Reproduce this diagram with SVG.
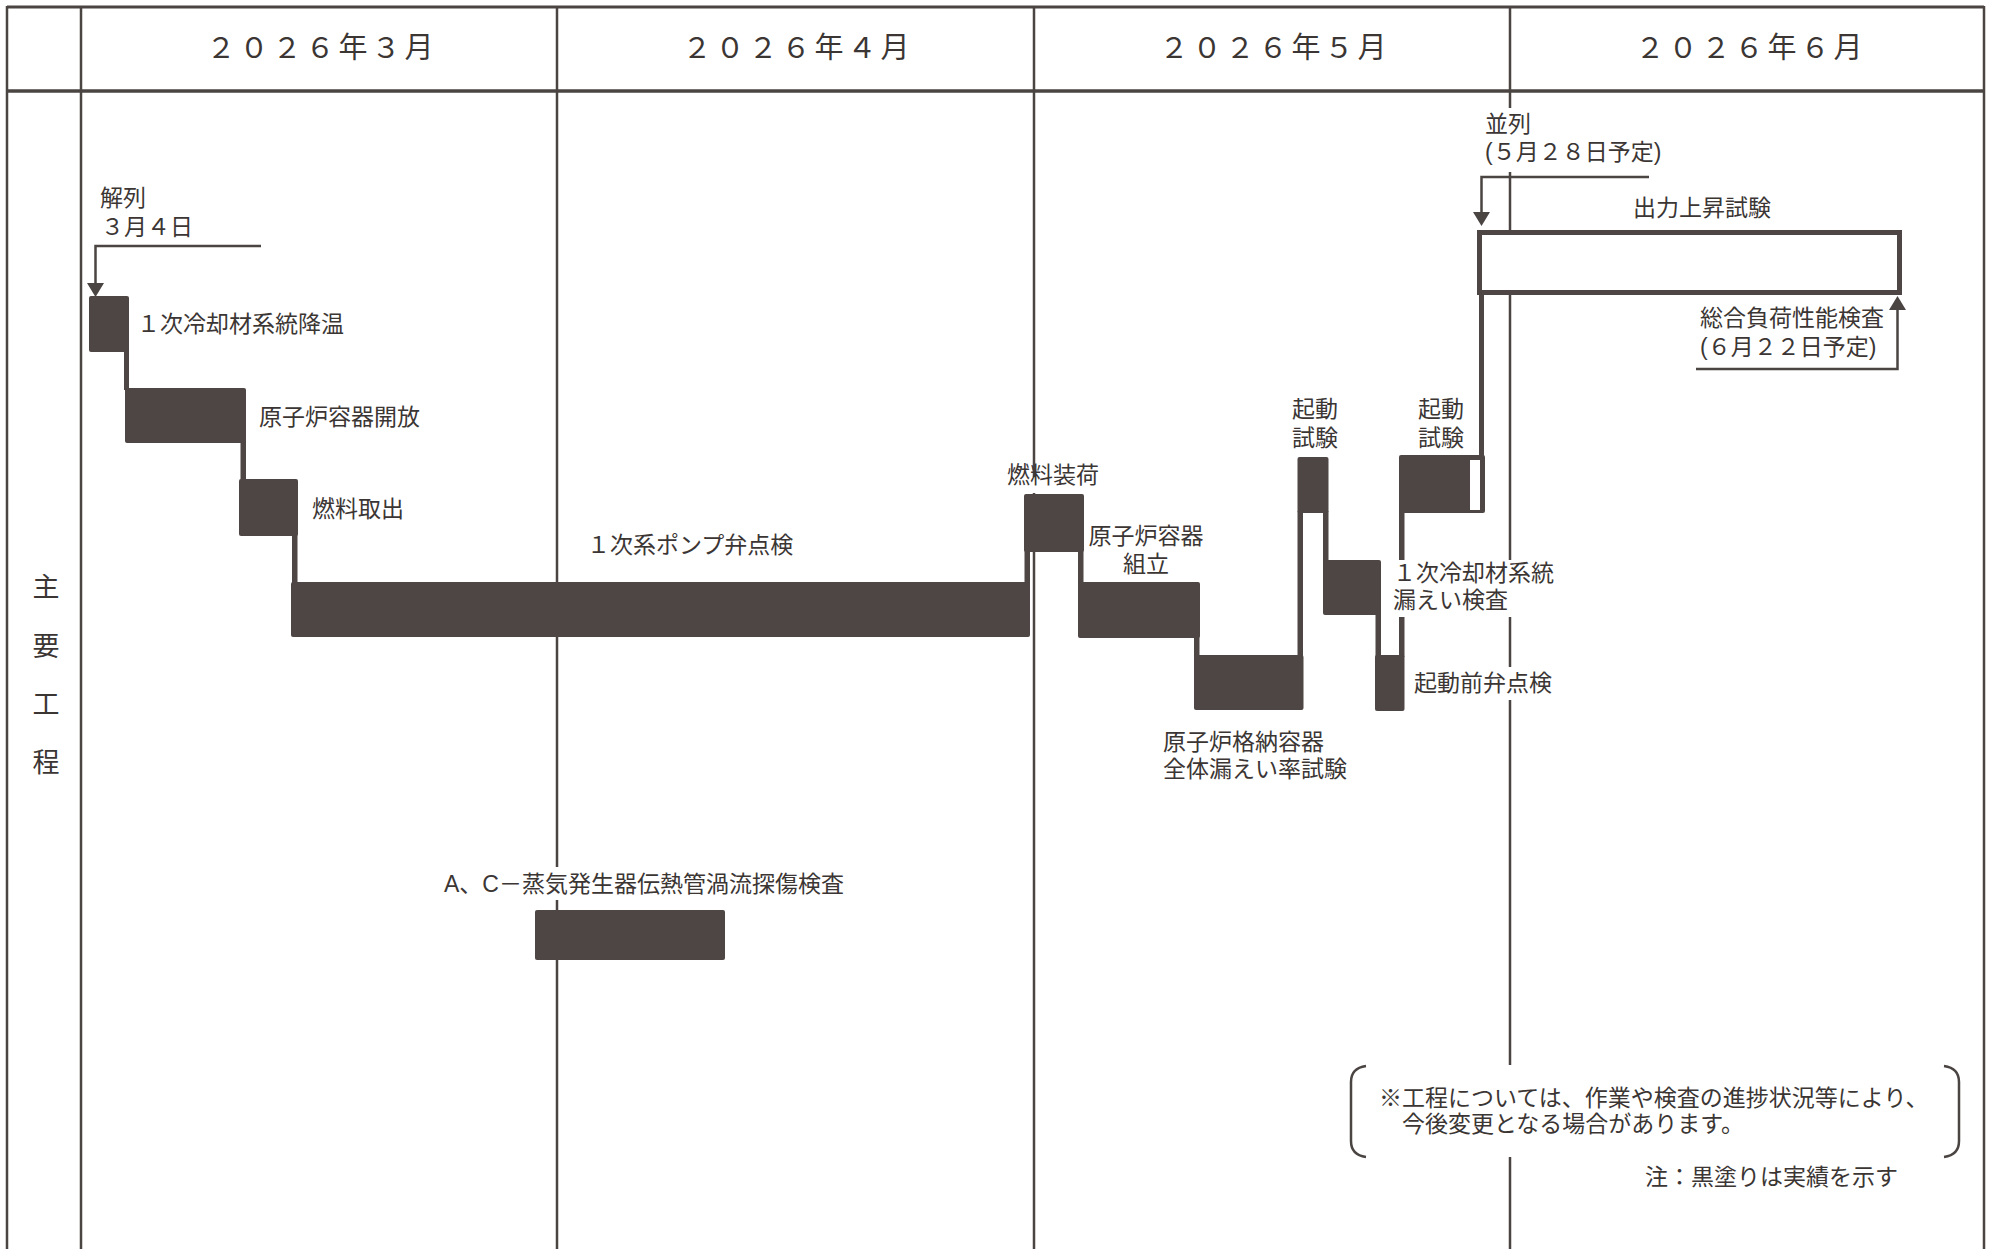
<svg xmlns="http://www.w3.org/2000/svg" width="1993" height="1249" viewBox="0 0 1993 1249">
<style>
.grid{stroke:#4a4442;stroke-width:2.5;fill:none}
.bar{fill:#4e4644}
.plan{fill:#fff;stroke:#4e4644;stroke-width:5}
.lbl{font-family:"Liberation Sans","Noto Sans CJK JP","Noto Sans CJK SC",sans-serif;font-size:23px;fill:#3b3634}
.hdr{font-family:"Noto Sans CJK JP","Noto Sans CJK SC",sans-serif;font-size:29px;fill:#3b3634;letter-spacing:4px;text-anchor:middle}
.side{font-family:"Noto Sans CJK JP","Noto Sans CJK SC",sans-serif;font-size:27px;fill:#3b3634;text-anchor:middle}
.mid{text-anchor:middle}
.bg{fill:#fff}
.arrow{stroke:#4a4442;stroke-width:2.5;fill:none;marker-end:url(#ah)}
.brk{stroke:#4a4442;stroke-width:2.5;fill:none}
</style>
<defs>
<marker id="ah" markerUnits="userSpaceOnUse" markerWidth="14" markerHeight="17" viewBox="0 0 14 17" refX="0" refY="8.5" orient="auto">
<path d="M0,0 L14,8.5 L0,17 z" fill="#4a4442"/>
</marker>
</defs>
<rect width="1993" height="1249" fill="#fff"/>
<g id="grid">
<line class="grid" x1="7" y1="7" x2="1984" y2="7" style="stroke-width:3"/>
<line class="grid" x1="7" y1="91" x2="1984" y2="91" style="stroke-width:3.5"/>
<line class="grid" x1="7" y1="6" x2="7" y2="1249"/>
<line class="grid" x1="81" y1="6" x2="81" y2="1249"/>
<line class="grid" x1="557" y1="6" x2="557" y2="1249"/>
<line class="grid" x1="1034" y1="6" x2="1034" y2="1249"/>
<line class="grid" x1="1510" y1="6" x2="1510" y2="1249"/>
<line class="grid" x1="1984" y1="6" x2="1984" y2="1249"/>
<text class="hdr" x="322" y="58">２０２６年３月</text>
<text class="hdr" x="798" y="58">２０２６年４月</text>
<text class="hdr" x="1275" y="58">２０２６年５月</text>
<text class="hdr" x="1751" y="58">２０２６年６月</text>
<text class="side" x="46" y="597">主</text>
<text class="side" x="46" y="656">要</text>
<text class="side" x="46" y="714">工</text>
<text class="side" x="46" y="772">程</text>
</g>
<g id="connectors">
<rect class="bar" x="124" y="350" width="5" height="40"/>
<rect class="bar" x="240.5" y="441" width="5.5" height="40"/>
<rect class="bar" x="292" y="534" width="5.5" height="50"/>
<rect class="bar" x="1024.5" y="550" width="5.5" height="34"/>
<rect class="bar" x="1078" y="550" width="5.5" height="34"/>
<rect class="bar" x="1194" y="636" width="5.5" height="21"/>
<rect class="bar" x="1297.5" y="511" width="5.5" height="146"/>
<rect class="bar" x="1323" y="511" width="5.5" height="51"/>
<rect class="bar" x="1375.5" y="613" width="5.5" height="44"/>
<rect class="bar" x="1399" y="511" width="5.5" height="146"/>
<rect class="bar" x="1479" y="292" width="5" height="165"/>
<path class="arrow" d="M261,246 H95.5 V283"/>
<path class="arrow" d="M1649,177 H1481.5 V212"/>
<path class="arrow" d="M1696,369 H1897.5 V310"/>
</g>
<g id="n-kairetsu">
<text class="lbl" x="100" y="205.5">解列</text>
<text class="lbl" x="101" y="235">３月４日</text>
</g>
<g id="n-koon">
<rect class="bar" x="89" y="296" width="40" height="56" rx="2"/>
<text class="lbl" x="137" y="331.5">１次冷却材系統降温</text>
</g>
<g id="n-kaiho">
<rect class="bar" x="125" y="388" width="121" height="55" rx="2"/>
<text class="lbl" x="259" y="424.5">原子炉容器開放</text>
</g>
<g id="n-toridashi">
<rect class="bar" x="239" y="479" width="59" height="57" rx="2"/>
<text class="lbl" x="312" y="516.5">燃料取出</text>
</g>
<g id="n-pump">
<rect class="bar" x="291" y="582" width="739" height="55" rx="2"/>
<text class="lbl" x="587" y="553">１次系ポンプ弁点検</text>
</g>
<g id="n-soka">
<rect class="bar" x="1024" y="494" width="60" height="58" rx="2"/>
<rect class="bg" x="1005" y="477" width="96" height="16"/>
<text class="lbl" x="1007" y="482.5">燃料装荷</text>
</g>
<g id="n-kumitate">
<rect class="bar" x="1078" y="582" width="122" height="56" rx="2"/>
<text class="lbl mid" x="1146" y="543.5">原子炉容器</text>
<text class="lbl mid" x="1146" y="571.5">組立</text>
</g>
<g id="n-kakuno">
<rect class="bar" x="1194" y="655" width="109.5" height="55" rx="2"/>
<text class="lbl" x="1163" y="749.5">原子炉格納容器</text>
<text class="lbl" x="1163" y="776.5">全体漏えい率試験</text>
</g>
<g id="n-kido1">
<rect class="bar" x="1297.5" y="457" width="31" height="56" rx="2"/>
<text class="lbl mid" x="1315" y="416.5">起動</text>
<text class="lbl mid" x="1315" y="445.5">試験</text>
</g>
<g id="n-more">
<rect class="bar" x="1323" y="560" width="58" height="55" rx="2"/>
<rect class="bg" x="1391" y="560" width="168" height="57"/>
<text class="lbl" x="1393" y="581">１次冷却材系統</text>
<text class="lbl" x="1393" y="607.5">漏えい検査</text>
</g>
<g id="n-kidomae">
<rect class="bar" x="1375" y="655" width="29.5" height="56" rx="2"/>
<rect class="bg" x="1410" y="667" width="150" height="33"/>
<text class="lbl" x="1414" y="690.5">起動前弁点検</text>
</g>
<g id="n-kido2">
<rect class="bar" x="1399" y="455" width="86" height="58" rx="2"/>
<rect class="bg" x="1470" y="460" width="10" height="50"/>
<text class="lbl mid" x="1441" y="416.5">起動</text>
<text class="lbl mid" x="1441" y="445.5">試験</text>
</g>
<g id="n-heiretsu">
<rect class="bg" x="1483" y="108" width="190" height="64"/>
<text class="lbl" x="1485" y="131.5">並列</text>
<text class="lbl" x="1485" y="160">(５月２８日予定)</text>
</g>
<g id="n-shutsuryoku">
<rect class="plan" x="1479.5" y="232.5" width="420" height="60"/>
<text class="lbl mid" x="1702" y="215.5">出力上昇試験</text>
</g>
<g id="n-sogo">
<text class="lbl" x="1700" y="325.5">総合負荷性能検査</text>
<text class="lbl" x="1700" y="355">(６月２２日予定)</text>
</g>
<g id="n-sg">
<rect class="bg" x="442" y="867" width="412" height="33"/>
<text class="lbl" x="444" y="891.5">A、C－蒸気発生器伝熱管渦流探傷検査</text>
<rect class="bar" x="535" y="910" width="190" height="50" rx="2"/>
</g>
<g id="n-note">
<rect class="bg" x="1351" y="1065" width="608" height="92"/>
<path class="brk" d="M1366,1066 Q1351,1068 1351,1082 V1141 Q1351,1155 1366,1157"/>
<path class="brk" d="M1944,1066 Q1959,1068 1959,1082 V1141 Q1959,1155 1944,1157"/>
<text class="lbl" x="1379" y="1106">※工程については、作業や検査の進捗状況等により、</text>
<text class="lbl" x="1402" y="1132">今後変更となる場合があります。</text>
<text class="lbl" x="1645" y="1185">注：黒塗りは実績を示す</text>
</g>
</svg>
